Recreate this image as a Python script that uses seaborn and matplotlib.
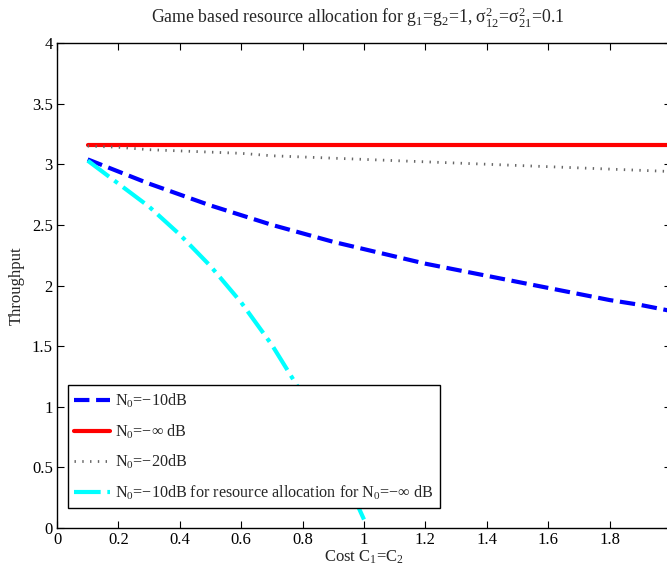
import numpy as np
import pandas as pd
import matplotlib
matplotlib.use("Agg")
import matplotlib.pyplot as plt
import seaborn as sns

cost = [0.1, 0.2, 0.3, 0.4, 0.5, 0.6, 0.7, 0.8, 0.9, 1.0,
        1.1, 1.2, 1.3, 1.4, 1.5, 1.6, 1.7, 1.8, 1.9, 2.0]
n0_m10 = [3.04, 2.94, 2.84, 2.75, 2.66, 2.58, 2.50, 2.43, 2.36, 2.30,
          2.24, 2.18, 2.13, 2.08, 2.03, 1.98, 1.93, 1.88, 1.84, 1.79]
n0_inf = [3.16, 3.16, 3.16, 3.16, 3.16, 3.16, 3.16, 3.16, 3.16, 3.16,
          3.16, 3.16, 3.16, 3.16, 3.16, 3.16, 3.16, 3.16, 3.16, 3.16]
n0_m20 = [3.15, 3.14, 3.12, 3.11, 3.10, 3.09, 3.07, 3.06, 3.05, 3.04,
          3.03, 3.02, 3.01, 3.00, 2.99, 2.98, 2.97, 2.96, 2.95, 2.94]
cost_mis = [0.1, 0.2, 0.3, 0.4, 0.5, 0.6, 0.7, 0.8, 0.9, 1.0]
n0_mis = [3.03, 2.84, 2.65, 2.42, 2.16, 1.86, 1.51, 1.10, 0.63, 0.07]

labels = [r"N$_{0}$=$-$10dB", r"N$_{0}$=$-\infty$ dB", r"N$_{0}$=$-$20dB",
          r"N$_{0}$=$-$10dB for resource allocation for N$_{0}$=$-\infty$ dB"]
xticks = [0, 0.2, 0.4, 0.6, 0.8, 1, 1.2, 1.4, 1.6, 1.8, 2]
xticklabels = ["0", "0.2", "0.4", "0.6", "0.8", "1", "1.2", "1.4", "1.6", "1.8", "2"]
yticks = [0, 0.5, 1, 1.5, 2, 2.5, 3, 3.5, 4]
yticklabels = ["0", "0.5", "1", "1.5", "2", "2.5", "3", "3.5", "4"]

sns.set_theme(style="ticks")
plt.rcParams["font.family"] = ["Liberation Serif", "DejaVu Serif"]
plt.rcParams["mathtext.fontset"] = "custom"
plt.rcParams["mathtext.rm"] = "Liberation Serif"
plt.rcParams["mathtext.it"] = "Liberation Serif"
plt.rcParams["mathtext.default"] = "rm"

fig = plt.figure(figsize=(6.67, 5.75), dpi=100)
ax = fig.add_axes([57/667, 47/575, 614/667, 485/575])

sns.lineplot(x=cost, y=n0_m10, ax=ax, color="#0000ff", linestyle="--", lw=3,
             label=labels[0])
sns.lineplot(x=cost, y=n0_inf, ax=ax, color="#ff0000", linestyle="-", lw=3,
             label=labels[1])
sns.lineplot(x=cost, y=n0_m20, ax=ax, color="0.4", linestyle=(0, (0.5, 2.3)), lw=2.0,
             label=labels[2])
sns.lineplot(x=cost_mis, y=n0_mis, ax=ax, color="#00ffff", linestyle="-.", lw=3,
             label=labels[3])

ax.set_xlim(0, 2)
ax.set_ylim(0, 4)
ax.set_xticks(xticks)
ax.set_xticklabels(xticklabels)
ax.set_yticks(yticks)
ax.set_yticklabels(yticklabels)
ax.tick_params(direction="in", length=5, width=0.8, top=True, right=True,
               labelsize=12, colors="black", pad=3)
for s in ax.spines.values():
    s.set_color("black")
    s.set_linewidth(1.0)

ax.set_xlabel(r"Cost C$_{1}$=C$_{2}$", fontsize=12, labelpad=0)
ax.set_ylabel("Throughput", fontsize=12, labelpad=5)
ax.set_title(r"Game based resource allocation for g$_{1}$=g$_{2}$=1, $\sigma^{2}_{12}$=$\sigma^{2}_{21}$=0.1",
             fontsize=12.8, pad=14, x=0.49)

leg = ax.legend(loc="lower left", bbox_to_anchor=(11/614, 20/485), borderaxespad=0,
                fontsize=11.6, frameon=True, fancybox=False, handlelength=2.2,
                labelspacing=0.75, handletextpad=0.3, borderpad=0.4)
leg.get_frame().set_edgecolor("black")
leg.get_frame().set_linewidth(1.0)
leg.get_frame().set_alpha(1)

fig.savefig("out.png", dpi=100)
